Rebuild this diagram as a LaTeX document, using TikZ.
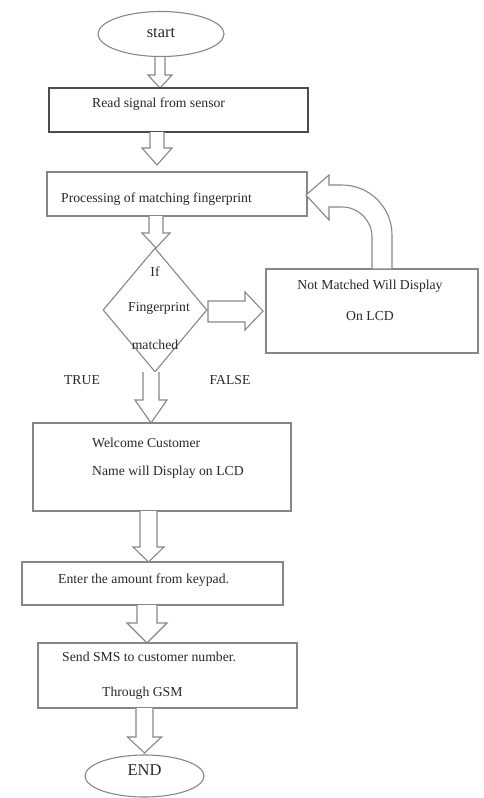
\documentclass[tikz,border=0pt]{standalone}
\usepackage{fontspec}
\setmainfont{Liberation Serif}
\usetikzlibrary{shapes.geometric}
\definecolor{ln}{RGB}{135,135,135}
\definecolor{tx}{RGB}{40,40,40}
\tikzset{
  box/.style={draw=ln, line width=1.1pt, rectangle, inner sep=0pt},
  oval/.style={draw=ln, line width=1.1pt, ellipse, inner sep=0pt},
  lbl/.style={text=tx, font=\fontsize{13.7}{15}\selectfont, inner sep=0pt},
  biglbl/.style={text=tx, font=\fontsize{16.5}{18}\selectfont, inner sep=0pt},
  blk/.style={draw=ln, line width=1.1pt, line join=miter, fill=white}
}
% #1 x centre, #2 top y, #3 bottom y (tip), #4 shaft half width, #5 head half width, #6 head length
\newcommand\blockdown[6]{%
  \draw[blk] ({#1-#4},#2) -- ({#1-#4},{#3-#6}) -- ({#1-#5},{#3-#6}) -- (#1,#3)
    -- ({#1+#5},{#3-#6}) -- ({#1+#4},{#3-#6}) -- ({#1+#4},#2);}
\begin{document}
\begin{tikzpicture}[x=1pt,y=-1pt]
\useasboundingbox (0,0) rectangle (484,798);

% start
\node[oval, minimum width=126pt, minimum height=45pt] (start) at (161,34) {};
\node[biglbl] (tstart) at (161,33) {start};
\blockdown{160}{57}{88}{5}{12}{13}

% read signal
\node[box, draw=black!70, minimum width=259pt, minimum height=44pt] (read) at (178.5,110) {};
\node[lbl, anchor=west] (tread) at (92,104) {Read signal from sensor};
\blockdown{157}{132}{165}{7}{15}{17}

% processing
\node[box, minimum width=260pt, minimum height=44pt] (proc) at (177,194) {};
\node[lbl, anchor=west] (tproc) at (61,199) {Processing of matching fingerprint};
\blockdown{156}{216}{248}{7}{14}{15}

% decision
\node[draw=ln, line width=1.1pt, diamond, inner sep=0pt, minimum width=104pt, minimum height=124pt] (dec) at (155,310) {};
\node[lbl] (d1) at (155,272) {If};
\node[lbl] (d2) at (159,308) {Fingerprint};
\node[lbl] (d3) at (155,345) {matched};

% right block arrow to not matched
\draw[blk] (208,301) -- (245,301) -- (245,292) -- (263,311) -- (245,330) -- (245,322) -- (208,322) -- cycle;

% not matched box
\node[box, minimum width=212pt, minimum height=84pt] (nm) at (372,311) {};
\node[lbl] (tnm1) at (370,286) {Not Matched Will Display};
\node[lbl] (tnm2) at (370,316) {On LCD};

% curved block arrow back to processing
\draw[blk] (392,269) -- (392,235) arc[start angle=0, end angle=-90, radius=50] -- (329,185)
  -- (329,175) -- (306,195) -- (329,220) -- (329,207) -- (342,207)
  arc[start angle=-90, end angle=0, radius=30] -- (372,269) -- cycle;

% TRUE / FALSE
\node[lbl] (ttrue) at (82,380) {TRUE};
\node[lbl] (tfalse) at (230,380) {FALSE};

\blockdown{151}{372}{423}{8}{16}{23}

% welcome
\node[box, minimum width=258pt, minimum height=88pt] (wel) at (162,467) {};
\node[lbl, anchor=west] (tw1) at (92,443) {Welcome Customer};
\node[lbl, anchor=west] (tw2) at (92,472) {Name will Display on LCD};
\blockdown{148.5}{511}{562}{8.5}{15.5}{15}

% enter amount
\node[box, minimum width=261pt, minimum height=43pt] (amt) at (152.5,583.5) {};
\node[lbl, anchor=west] (tamt) at (58,580) {Enter the amount from keypad.};
\blockdown{147}{605}{643}{10}{20}{20}

% send SMS
\node[box, minimum width=259pt, minimum height=65pt] (sms) at (167.5,675.5) {};
\node[lbl, anchor=west] (tsms1) at (62,657) {Send SMS to customer number.};
\node[lbl, anchor=west] (tsms2) at (102,693) {Through GSM};
\blockdown{144.5}{708}{753}{8.5}{17}{16}

% end
\node[oval, minimum width=119pt, minimum height=42pt] (end) at (144.5,776) {};
\node[biglbl] (tend) at (144.5,770) {END};
\end{tikzpicture}
\end{document}
